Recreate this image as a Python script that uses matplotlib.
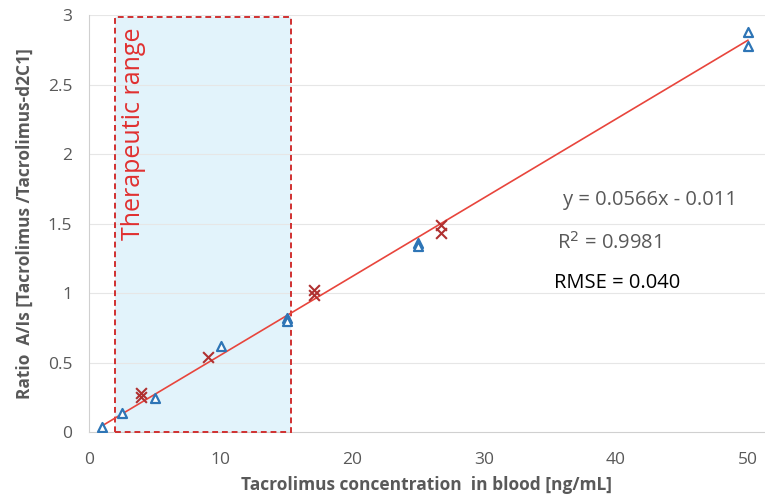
import matplotlib.pyplot as plt
from matplotlib.patches import Rectangle

# calibration points (triangles)
triX = [1, 2.5, 5, 10, 15, 15, 25, 25, 50, 50]
triY = [0.04, 0.14, 0.245, 0.62, 0.82, 0.80, 1.36, 1.34, 2.88, 2.78]

# QC / patient samples (crosses)
crossX = [3.95, 3.95, 9, 17.1, 17.1, 26.7, 26.7]
crossY = [0.28, 0.25, 0.54, 1.02, 0.99, 1.49, 1.43]

slope = 0.0566
intercept = -0.011
fitX = [1, 50]

rangeLow, rangeHigh = 2, 15.3

xTicks = [0, 10, 20, 30, 40, 50]
yTicks = [0, 0.5, 1, 1.5, 2, 2.5, 3]
yTickLabels = ["0", "0.5", "1", "1.5", "2", "2.5", "3"]

plt.rcParams['font.family'] = ['Open Sans', 'DejaVu Sans']
grey = '#595959'

fig = plt.figure(figsize=(7.65, 4.99), dpi=100)
ax = fig.add_axes([0.1163, 0.134, 0.8837, 0.8357])

ax.set_xlim(0, 51.3)
ax.set_ylim(0, 3)

# therapeutic range box: fill under gridlines, dashed border on top
ax.add_patch(Rectangle((rangeLow, 0), rangeHigh - rangeLow, 2.99, facecolor='#e2f3fb',
                       edgecolor='none', zorder=0.5))
ax.add_patch(Rectangle((rangeLow, 0), rangeHigh - rangeLow, 2.99, facecolor='none',
                       edgecolor='#d03030', linestyle=(0, (3, 2)), linewidth=1.4,
                       zorder=3, clip_on=False))
ax.text(3.4, 2.91, "Therapeutic range", rotation=90, color='#e03030', fontsize=18,
        ha='center', va='top', zorder=2)

for y in yTicks[1:]:
    ax.axhline(y, color='#e6e6e6', linewidth=0.8, zorder=0.8)

fitY = [slope * x + intercept for x in fitX]
ax.plot(fitX, fitY, color='#e8453c', linewidth=1.2, zorder=3)

ax.scatter(triX, triY, marker='^', s=42, facecolors='white', edgecolors='#2e75b6',
           linewidths=1.6, zorder=4)
ax.scatter(crossX, crossY, marker='x', s=60, color='#b03030', linewidths=1.5, zorder=4)

ax.text(36.0, 1.67, "y = 0.0566x - 0.011", color=grey, fontsize=14.5, va='center')
ax.text(35.5, 1.36, "R$^2$ = 0.9981", color=grey, fontsize=14.5, va='center')
ax.text(35.3, 1.07, "RMSE = 0.040", color='black', fontsize=14.5, va='center')

ax.set_xticks(xTicks)
ax.set_yticks(yTicks)
ax.set_yticklabels(yTickLabels)
ax.tick_params(axis='x', length=0, colors=grey, labelsize=12.5, pad=14)
ax.tick_params(axis='y', length=0, colors=grey, labelsize=12.5, pad=12)
for side in ['top', 'right']:
    ax.spines[side].set_visible(False)
for side in ['left', 'bottom']:
    ax.spines[side].set_color('#d0d0d0')

ax.set_xlabel("Tacrolimus concentration  in blood [ng/mL]", fontsize=12.5,
              fontweight='bold', color=grey, labelpad=6)
ax.set_ylabel("Ratio  A/Is [Tacrolimus /Tacrolimus-d2C1]", fontsize=12.5,
              fontweight='bold', color=grey, labelpad=10)

plt.savefig("out.png", dpi=100)
plt.close()
